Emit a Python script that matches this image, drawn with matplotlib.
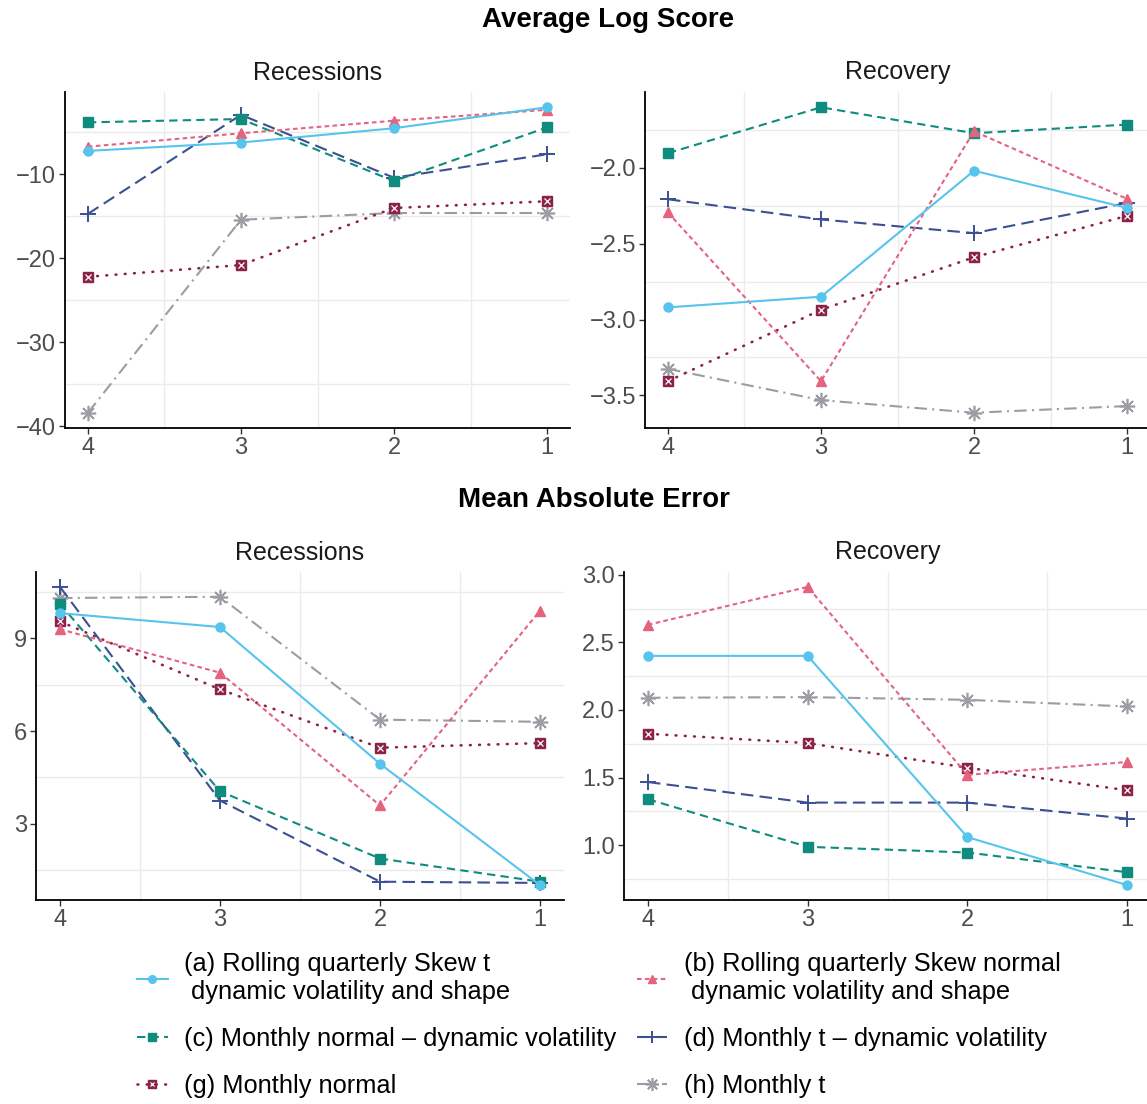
import numpy as np
import matplotlib
matplotlib.use("Agg")
import matplotlib.pyplot as plt
from matplotlib.ticker import FixedLocator
from matplotlib.lines import Line2D

plt.rcParams['font.family'] = ['Liberation Sans', 'DejaVu Sans']

# horizon (quarters ahead), drawn on a reversed axis
horizon = [4, 3, 2, 1]

# Average log score
ls_rec = {
    'a': [-7.2, -6.2, -4.5, -2.0],
    'b': [-6.7, -5.1, -3.6, -2.3],
    'c': [-3.8, -3.4, -10.8, -4.4],
    'd': [-14.7, -2.9, -10.4, -7.6],
    'g': [-22.2, -20.8, -14.0, -13.2],
    'h': [-38.4, -15.4, -14.6, -14.6],
}
ls_recov = {
    'a': [-2.92, -2.85, -2.02, -2.265],
    'b': [-2.295, -3.406, -1.76, -2.205],
    'c': [-1.904, -1.602, -1.773, -1.716],
    'd': [-2.208, -2.341, -2.431, -2.232],
    'g': [-3.406, -2.936, -2.59, -2.317],
    'h': [-3.325, -3.531, -3.614, -3.570],
}
# Mean absolute error
mae_rec = {
    'a': [9.82, 9.37, 4.94, 1.01],
    'b': [9.30, 7.89, 3.59, 9.90],
    'c': [10.12, 4.05, 1.87, 1.12],
    'd': [10.67, 3.75, 1.12, 1.08],
    'g': [9.55, 7.35, 5.46, 5.61],
    'h': [10.31, 10.35, 6.37, 6.30],
}
mae_recov = {
    'a': [2.40, 2.40, 1.06, 0.705],
    'b': [2.63, 2.91, 1.52, 1.615],
    'c': [1.34, 0.988, 0.946, 0.80],
    'd': [1.467, 1.315, 1.315, 1.197],
    'g': [1.824, 1.755, 1.573, 1.406],
    'h': [2.09, 2.095, 2.075, 2.026],
}

labels = {
    'a': '(a) Rolling quarterly Skew t\n dynamic volatility and shape',
    'b': '(b) Rolling quarterly Skew normal\n dynamic volatility and shape',
    'c': '(c) Monthly normal \u2013 dynamic volatility',
    'd': '(d) Monthly t \u2013 dynamic volatility',
    'g': '(g) Monthly normal',
    'h': '(h) Monthly t',
}

styles = {
    'a': dict(color='#56C4EC', ls='-', marker='o', ms=6.5),
    'b': dict(color='#E4637E', ls=(0, (2.2, 1.6)), marker='^', ms=7.5),
    'c': dict(color='#0F8C7E', ls=(0, (4, 2.5)), marker='s', ms=6.5),
    'd': dict(color='#3B4F93', ls=(0, (6, 3)), marker='+', ms=11, mew=1.4),
    'g': dict(color='#8C2248', ls=(0, (0.3, 3.2)), marker='s', ms=7.5, cap='round', lw=1.9),
    'h': dict(color='#9C9CA4', ls=(0, (6, 2.5, 1, 2.5)), marker=(8, 2, 0), ms=11, mew=1.2),
}

W, H = 1147, 1104
fig = plt.figure(figsize=(W / 100, H / 100), dpi=100)


def px_axes(left, right, top, bottom):
    return fig.add_axes([left / W, (H - bottom) / H, (right - left) / W, (bottom - top) / H])


def draw_panel(ax, data, title, major, minor):
    for key in ['h', 'g', 'd', 'c', 'b', 'a']:
        st = styles[key]
        ax.plot(horizon, data[key], color=st['color'], ls=st['ls'], lw=st.get('lw', 1.5),
                marker=st['marker'], ms=st['ms'], mew=st.get('mew', 1),
                dash_capstyle=st.get('cap', 'butt'), zorder=3)
        if key == 'g':
            ax.plot(horizon, data[key], ls='none', marker='x', ms=4, mew=0.9,
                    color='white', zorder=4)
    ax.invert_xaxis()
    ax.set_xticks(horizon)
    ax.yaxis.set_major_locator(FixedLocator(major))
    ax.yaxis.set_minor_locator(FixedLocator(minor))
    ax.xaxis.set_minor_locator(FixedLocator([3.5, 2.5, 1.5]))
    ax.grid(False, which='major')
    ax.grid(True, which='minor', color='#EBEBEB', lw=1.0)
    ax.set_axisbelow(True)
    for s in ['top', 'right']:
        ax.spines[s].set_visible(False)
    for s in ['left', 'bottom']:
        ax.spines[s].set_linewidth(1.3)
        ax.spines[s].set_color('black')
    ax.tick_params(which='major', length=4.5, width=1.0, color='#333333',
                   labelsize=17, labelcolor='#4D4D4D', pad=2)
    ax.tick_params(which='minor', length=0)
    ax.set_title(title, fontsize=18, color='#1A1A1A', pad=9)


ax1 = px_axes(65, 570, 92, 428)
draw_panel(ax1, ls_rec, 'Recessions', [-40, -30, -20, -10], [-35, -25, -15, -5])
ax2 = px_axes(645, 1150, 92, 428)
draw_panel(ax2, ls_recov, 'Recovery', [-3.5, -3.0, -2.5, -2.0], [-3.25, -2.75, -2.25, -1.75])
ax3 = px_axes(36, 564, 572, 900)
draw_panel(ax3, mae_rec, 'Recessions', [3, 6, 9], [1.5, 4.5, 7.5, 10.5])
ax4 = px_axes(624, 1151, 572, 900)
draw_panel(ax4, mae_recov, 'Recovery', [1.0, 1.5, 2.0, 2.5, 3.0], [0.75, 1.25, 1.75, 2.25, 2.75])

fig.text(608 / W, 1 - 20 / H, 'Average Log Score', ha='center', va='center',
         fontsize=20, fontweight='bold')
fig.text(594 / W, 1 - 500 / H, 'Mean Absolute Error', ha='center', va='center',
         fontsize=20, fontweight='bold')

handles = []
order = ['a', 'c', 'g', 'b', 'd', 'h']
for key in order:
    st = styles[key]
    ln = Line2D([], [], color=st['color'], ls=st['ls'], lw=st.get('lw', 1.5),
                marker=st['marker'], ms=st['ms'] * 0.85, mew=st.get('mew', 1),
                dash_capstyle=st.get('cap', 'butt'))
    if key == 'g':
        ln = (ln, Line2D([], [], ls='none', marker='x', ms=3.5, mew=0.9, color='white'))
    handles.append(ln)
fig.legend(handles, [labels[k] for k in order], ncol=2, loc='upper left',
           bbox_to_anchor=(127 / W, 1 - 942 / H), frameon=False, fontsize=18.3,
           handlelength=1.2, handletextpad=0.65, columnspacing=0.8,
           labelspacing=0.9, borderaxespad=0)

fig.savefig('out.png', dpi=100)
